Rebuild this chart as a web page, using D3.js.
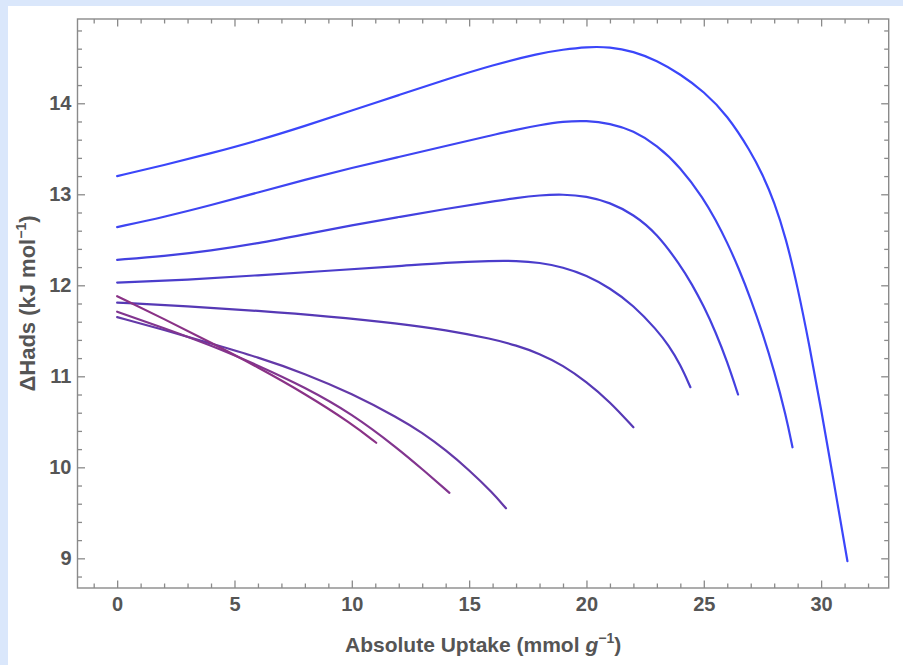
<!DOCTYPE html>
<html>
<head>
<meta charset="utf-8">
<script src="https://cdn.jsdelivr.net/npm/d3@7"></script>
<style>
  html, body { margin: 0; padding: 0; background: #dae7fb; }
  svg { display: block; }
</style>
</head>
<body>
<div id="chart"></div>
<script>
// curves: [absolute uptake, ΔHads], top (blue) to bottom (purple)
const curve1 = [[0,13.2],[2,13.32],[4,13.45],[6,13.59],[8,13.75],[10,13.92],[12,14.09],[14,14.26],[16,14.42],[18,14.55],[19,14.59],[20,14.62],[21,14.62],[22,14.57],[23,14.47],[24,14.32],[25,14.13],[26,13.87],[27,13.47],[27.5,13.22],[28,12.92],[28.5,12.52],[29,11.98],[29.5,11.34],[30,10.64],[30.5,9.9],[31.12,8.97]];
const curve2 = [[0,12.64],[2,12.75],[4,12.88],[6,13.02],[8,13.16],[10,13.29],[12,13.41],[14,13.53],[16,13.65],[17,13.71],[18,13.76],[19,13.8],[20,13.81],[21,13.78],[22,13.7],[23,13.54],[24,13.3],[25,12.95],[25.5,12.72],[26,12.47],[26.5,12.18],[27,11.85],[27.5,11.48],[28,11.06],[28.5,10.57],[28.78,10.22]];
const curve3 = [[0,12.28],[2,12.32],[4,12.38],[6,12.46],[8,12.56],[10,12.66],[12,12.75],[14,12.84],[16,12.92],[17,12.96],[18,12.99],[19,13.0],[20,12.98],[21,12.91],[22,12.78],[23,12.57],[24,12.22],[24.5,12.01],[25,11.77],[25.5,11.49],[26,11.16],[26.46,10.8]];
const curve4 = [[0,12.03],[3,12.06],[6,12.11],[9,12.16],[12,12.21],[14,12.25],[16,12.27],[17,12.27],[18,12.25],[19,12.2],[20,12.11],[21,11.97],[22,11.78],[23,11.51],[23.5,11.34],[24,11.13],[24.43,10.88]];
const curve5 = [[0,11.81],[3,11.77],[6,11.72],[9,11.66],[12,11.58],[14,11.51],[16,11.41],[17,11.34],[18,11.25],[19,11.12],[20,10.94],[21,10.72],[22,10.44]];
const curve6 = [[0,11.65],[2,11.51],[4,11.36],[6,11.21],[8,11.03],[10,10.81],[12,10.54],[13,10.38],[14,10.19],[15,9.97],[16,9.72],[16.57,9.55]];
const curve7 = [[0,11.71],[2,11.53],[4,11.34],[6,11.12],[8,10.88],[10,10.59],[12,10.2],[13,9.98],[14.16,9.72]];
const curve8 = [[0,11.88],[2,11.63],[4,11.37],[6,11.1],[8,10.81],[10,10.48],[11.04,10.27]];

const curves = [curve1, curve2, curve3, curve4, curve5, curve6, curve7, curve8];
const colors = ["#3b46fa", "#3e45f2", "#4341e0", "#4b3dcb", "#5639b5", "#6439a8", "#82358f", "#8a3286"];

const xTicks = [0, 5, 10, 15, 20, 25, 30];
const yTicks = [9, 10, 11, 12, 13, 14];

const width = 903;
const height = 665;
const frame = { left: 77.5, right: 888.7, top: 19, bottom: 588 };

const svg = d3.select("#chart")
  .append("svg")
  .attr("width", width)
  .attr("height", height);

// white panel on the light blue page
svg.append("rect")
  .attr("x", 8).attr("y", 6)
  .attr("width", width - 8).attr("height", height - 6)
  .attr("fill", "#fff");

const x = d3.scaleLinear()
  .domain([-1.69, 32.88])
  .range([frame.left, frame.right]);

const y = d3.scaleLinear()
  .domain([8.674, 14.926])
  .range([frame.bottom, frame.top]);

const xMinor = d3.range(-1, 33, 1).filter(v => v % 5 !== 0);
const yMinor = d3.range(8.8, 14.95, 0.2).map(v => +v.toFixed(1)).filter(v => Math.abs(v - Math.round(v)) > 0.01);

const font = "'Liberation Sans', Arial, Helvetica, sans-serif";
const tickColor = "#8a8a8a";
const labelColor = "#555555";

function styleAxis(g) {
  g.select(".domain").remove();
  g.selectAll(".tick line").attr("stroke", tickColor).attr("stroke-width", 1.3);
  g.selectAll(".tick text")
    .attr("fill", labelColor)
    .attr("font-family", font)
    .attr("font-weight", "bold")
    .attr("font-size", 20);
}

// bottom
svg.append("g")
  .attr("transform", `translate(0,${frame.bottom})`)
  .call(d3.axisBottom(x).tickValues(xTicks).tickSizeInner(-7.5).tickSizeOuter(0).tickPadding(9).tickFormat(d3.format("d")))
  .call(styleAxis);
svg.append("g")
  .attr("transform", `translate(0,${frame.bottom})`)
  .call(d3.axisBottom(x).tickValues(xMinor).tickSizeInner(-4.5).tickSizeOuter(0).tickFormat(""))
  .call(styleAxis);
// top
svg.append("g")
  .attr("transform", `translate(0,${frame.top})`)
  .call(d3.axisTop(x).tickValues(xTicks).tickSizeInner(-7.5).tickSizeOuter(0).tickFormat(""))
  .call(styleAxis);
svg.append("g")
  .attr("transform", `translate(0,${frame.top})`)
  .call(d3.axisTop(x).tickValues(xMinor).tickSizeInner(-4.5).tickSizeOuter(0).tickFormat(""))
  .call(styleAxis);
// left
svg.append("g")
  .attr("transform", `translate(${frame.left},0)`)
  .call(d3.axisLeft(y).tickValues(yTicks).tickSizeInner(-7.5).tickSizeOuter(0).tickPadding(6).tickFormat(d3.format("d")))
  .call(styleAxis);
svg.append("g")
  .attr("transform", `translate(${frame.left},0)`)
  .call(d3.axisLeft(y).tickValues(yMinor).tickSizeInner(-4.5).tickSizeOuter(0).tickFormat(""))
  .call(styleAxis);
// right
svg.append("g")
  .attr("transform", `translate(${frame.right},0)`)
  .call(d3.axisRight(y).tickValues(yTicks).tickSizeInner(-7.5).tickSizeOuter(0).tickFormat(""))
  .call(styleAxis);
svg.append("g")
  .attr("transform", `translate(${frame.right},0)`)
  .call(d3.axisRight(y).tickValues(yMinor).tickSizeInner(-4.5).tickSizeOuter(0).tickFormat(""))
  .call(styleAxis);

// frame
svg.append("rect")
  .attr("x", frame.left).attr("y", frame.top)
  .attr("width", frame.right - frame.left)
  .attr("height", frame.bottom - frame.top)
  .attr("fill", "none")
  .attr("stroke", tickColor)
  .attr("stroke-width", 1.4);

// curves
const line = d3.line()
  .x(d => x(d[0]))
  .y(d => y(d[1]))
  .curve(d3.curveBasis);

svg.append("g")
  .selectAll("path")
  .data(curves)
  .join("path")
  .attr("d", line)
  .attr("fill", "none")
  .attr("stroke", (d, i) => colors[i])
  .attr("stroke-width", 2.2)
  .attr("stroke-linecap", "round");

// axis labels
const xLabel = svg.append("text")
  .attr("x", (frame.left + frame.right) / 2)
  .attr("y", 652)
  .attr("text-anchor", "middle")
  .attr("font-family", font)
  .attr("font-weight", "bold")
  .attr("font-size", 21)
  .attr("fill", labelColor);
xLabel.append("tspan").text("Absolute Uptake (mmol ");
xLabel.append("tspan").attr("font-style", "italic").text("g");
xLabel.append("tspan").attr("font-size", 14).attr("dy", -9).text("−1");
xLabel.append("tspan").attr("dy", 9).text(")");

const yLabel = svg.append("text")
  .attr("transform", `translate(35,${(frame.top + frame.bottom) / 2}) rotate(-90)`)
  .attr("text-anchor", "middle")
  .attr("font-family", font)
  .attr("font-weight", "bold")
  .attr("font-size", 22)
  .attr("fill", labelColor);
yLabel.append("tspan").text("ΔHads (kJ mol");
yLabel.append("tspan").attr("font-size", 14).attr("dy", -9).text("−1");
yLabel.append("tspan").attr("dy", 9).text(")");
</script>
</body>
</html>
